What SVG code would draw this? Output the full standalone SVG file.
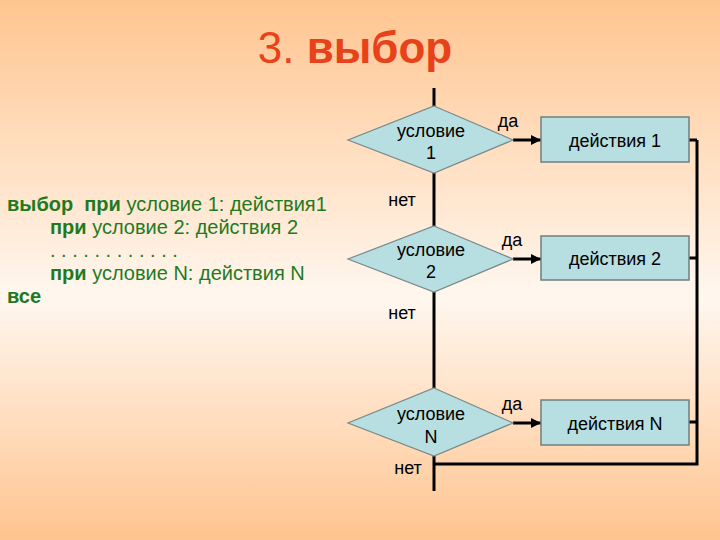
<svg xmlns="http://www.w3.org/2000/svg" width="720" height="540" viewBox="0 0 720 540">
<defs>
<linearGradient id="bg" x1="0" y1="0" x2="0" y2="1">
<stop offset="0" stop-color="#FFC590"/>
<stop offset="0.55" stop-color="#FFF7EF"/>
<stop offset="1" stop-color="#FFC48F"/>
</linearGradient>
<marker id="arr" viewBox="0 0 10 10" refX="10" refY="5" markerWidth="10" markerHeight="10" markerUnits="userSpaceOnUse" orient="auto">
<path d="M0,0 L10,5 L0,10 z" fill="#000"/>
</marker>
<style>
.t{font-family:"Liberation Sans",Arial,sans-serif;}
.lbl{font-family:"Liberation Sans",Arial,sans-serif;font-size:18px;fill:#000;}
.dia{fill:#B7DEE0;stroke:#7A8A8A;stroke-width:1.2;}
.box{fill:#B7DEE0;stroke:#6F7F7F;stroke-width:1.5;}
.ln{stroke:#000;stroke-width:3;fill:none;}
.g{font-family:"Liberation Sans",Arial,sans-serif;font-size:20px;fill:#1F7A1F;white-space:pre;}
.b{font-weight:bold;}
</style>
</defs>
<rect width="720" height="540" fill="url(#bg)"/>
<text class="t" x="355" y="63" text-anchor="middle" font-size="44" fill="#E8421A">3. <tspan font-weight="bold">выбор</tspan></text>

<g id="code">
<text class="g" x="7" y="211" xml:space="preserve"><tspan class="b">выбор  при</tspan> условие 1: действия1</text>
<text class="g" x="50" y="234"><tspan class="b">при</tspan> условие 2: действия 2</text>
<text class="g" x="50" y="257">. . . . . . . . . . . .</text>
<text class="g" x="50" y="280"><tspan class="b">при</tspan> условие N: действия N</text>
<text class="g b" x="7" y="303">все</text>
</g>

<g id="connectors">
<path class="ln" d="M434,88 V106"/>
<path class="ln" d="M434,173 V226"/>
<path class="ln" d="M434,292 V388"/>
<path class="ln" d="M434,456 V491"/>
<path class="ln" d="M434,464 H697 V140"/>
<path class="ln" d="M689,140 H697"/>
<path class="ln" d="M689,258 H697"/>
<path class="ln" d="M689,422 H697"/>
<path class="ln" d="M513,140 H541" marker-end="url(#arr)"/>
<path class="ln" d="M513,259 H541" marker-end="url(#arr)"/>
<path class="ln" d="M513,423 H541" marker-end="url(#arr)"/>
<text class="lbl" x="508" y="127" text-anchor="middle">да</text>
<text class="lbl" x="512" y="246" text-anchor="middle">да</text>
<text class="lbl" x="512" y="410" text-anchor="middle">да</text>
<text class="lbl" x="402" y="206" text-anchor="middle">нет</text>
<text class="lbl" x="402" y="319" text-anchor="middle">нет</text>
<text class="lbl" x="408" y="474" text-anchor="middle">нет</text>
</g>

<g id="cond1">
<polygon class="dia" points="434,106 513,140 434,173 348,140"/>
<text class="lbl" x="431" y="137" text-anchor="middle">условие</text>
<text class="lbl" x="431" y="159" text-anchor="middle">1</text>
</g>
<g id="cond2">
<polygon class="dia" points="434,226 513,259 434,292 348,259"/>
<text class="lbl" x="431" y="256" text-anchor="middle">условие</text>
<text class="lbl" x="431" y="278" text-anchor="middle">2</text>
</g>
<g id="condN">
<polygon class="dia" points="434,388 513,423 434,456 348,423"/>
<text class="lbl" x="431" y="420" text-anchor="middle">условие</text>
<text class="lbl" x="431" y="443" text-anchor="middle">N</text>
</g>
<g id="act1">
<rect class="box" x="541" y="117" width="148" height="45"/>
<text class="lbl" x="615" y="147" text-anchor="middle">действия 1</text>
</g>
<g id="act2">
<rect class="box" x="541" y="236" width="148" height="44"/>
<text class="lbl" x="615" y="265" text-anchor="middle">действия 2</text>
</g>
<g id="actN">
<rect class="box" x="541" y="400" width="148" height="45"/>
<text class="lbl" x="615" y="430" text-anchor="middle">действия N</text>
</g>
</svg>
